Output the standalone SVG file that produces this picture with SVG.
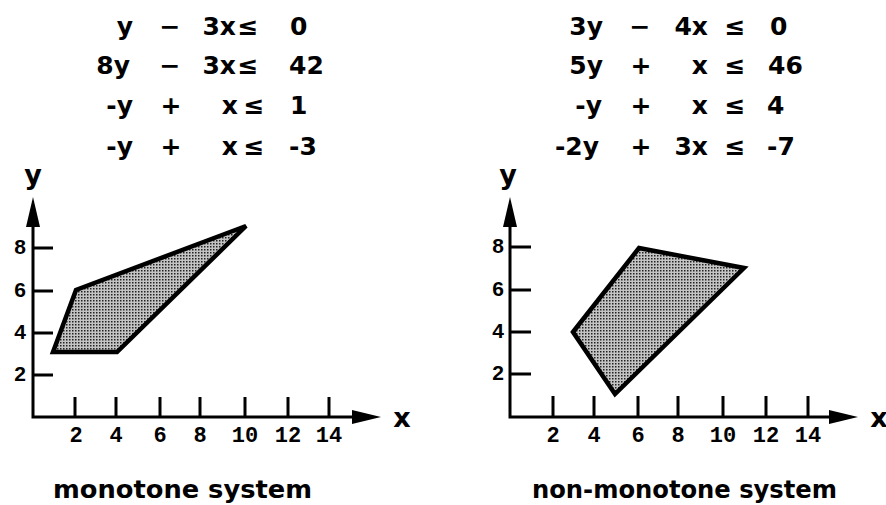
<svg xmlns="http://www.w3.org/2000/svg" width="886" height="505" viewBox="0 0 886 505">
<style>
.eq{font-family:"DejaVu Sans","Liberation Sans",sans-serif;font-weight:bold;font-size:25px;fill:#000}
.ax{stroke:#000;stroke-width:3;fill:none}
.tk{stroke:#000;stroke-width:3}
.xl{font-family:"Liberation Mono","DejaVu Sans Mono",monospace;font-weight:bold;font-size:22px;text-anchor:middle;fill:#000}
.yl{font-family:"Liberation Sans",Arial,sans-serif;font-weight:bold;font-size:21px;text-anchor:end;fill:#000}
.al{font-family:"DejaVu Sans","Liberation Sans",sans-serif;font-weight:bold;font-size:27px;text-anchor:middle;fill:#000}
.cap{font-family:"DejaVu Sans","Liberation Sans",sans-serif;font-weight:bold;font-size:25px;fill:#000}
.reg{fill:url(#dots);stroke:#000;stroke-width:4.5;stroke-linejoin:miter;stroke-miterlimit:3}
.e{text-anchor:end}.m{text-anchor:middle}.s{text-anchor:start}
</style>
<defs>
<pattern id="dots" width="3" height="3" patternUnits="userSpaceOnUse">
<rect width="3" height="3" fill="#c4c4c4"/>
<rect width="1.5" height="1.5" fill="#222"/>
</pattern>
</defs>

<g id="equations-left" class="eq">
<text x="133" y="35" class="e">y</text><text x="170" y="35" class="m">−</text><text x="236" y="35" class="e">3x</text><text x="248" y="35" class="m">≤</text><text x="290" y="35" class="s">0</text>
<text x="130" y="74" class="e">8y</text><text x="170" y="74" class="m">−</text><text x="236" y="74" class="e">3x</text><text x="248" y="74" class="m">≤</text><text x="289" y="74" class="s">42</text>
<text x="133" y="114" class="e">-y</text><text x="171" y="114" class="m">+</text><text x="238" y="114" class="e">x</text><text x="254" y="114" class="m">≤</text><text x="290" y="114" class="s">1</text>
<text x="133" y="155" class="e">-y</text><text x="171" y="155" class="m">+</text><text x="238" y="155" class="e">x</text><text x="254" y="155" class="m">≤</text><text x="289" y="155" class="s">-3</text>
</g>

<g id="equations-right" class="eq">
<text x="603" y="35" class="e">3y</text><text x="640" y="35" class="m">−</text><text x="708" y="35" class="e">4x</text><text x="735" y="35" class="m">≤</text><text x="770" y="35" class="s">0</text>
<text x="603" y="74" class="e">5y</text><text x="641" y="74" class="m">+</text><text x="708" y="74" class="e">x</text><text x="735" y="74" class="m">≤</text><text x="768" y="74" class="s">46</text>
<text x="602" y="114" class="e">-y</text><text x="641" y="114" class="m">+</text><text x="708" y="114" class="e">x</text><text x="735" y="114" class="m">≤</text><text x="767" y="114" class="s">4</text>
<text x="599" y="155" class="e">-2y</text><text x="641" y="155" class="m">+</text><text x="708" y="155" class="e">3x</text><text x="735" y="155" class="m">≤</text><text x="767" y="155" class="s">-7</text>
</g>

<g id="chart-left">
<polygon class="reg" points="53,352 76,290 246,226 117,352"/>
<path class="ax" d="M33,224 V417 H353"/>
<polygon points="33,197 26,227 40,227" fill="#000"/>
<polygon points="381,417 352,410 352,424" fill="#000"/>
<path class="tk" d="M33,248 H53 M33,291 H53 M33,333 H53 M33,375 H53 M75,397 V417 M116,397 V417 M160,397 V417 M200,397 V417 M245,397 V417 M288,397 V417 M329,397 V417"/>
<text class="yl" x="26" y="254">8</text><text class="yl" x="26" y="297">6</text><text class="yl" x="26" y="339">4</text><text class="yl" x="26" y="381">2</text>
<text class="xl" x="76" y="442">2</text><text class="xl" x="116" y="442">4</text><text class="xl" x="160" y="442">6</text><text class="xl" x="200" y="442">8</text><text class="xl" x="245" y="442">10</text><text class="xl" x="288" y="442">12</text><text class="xl" x="329" y="442">14</text>
<text class="al" x="33" y="184">y</text>
<text class="al" x="402" y="427">x</text>
<text class="cap" x="53" y="498" textLength="259" lengthAdjust="spacingAndGlyphs">monotone system</text>
</g>

<g id="chart-right">
<polygon class="reg" points="573,332 639,248 744,268 615,394"/>
<path class="ax" d="M510,224 V417 H830"/>
<polygon points="510,197 503,227 517,227" fill="#000"/>
<polygon points="858,417 829,410 829,424" fill="#000"/>
<path class="tk" d="M510,247 H531 M510,290 H531 M510,332 H531 M510,374 H531 M553,396 V417 M594,396 V417 M638,396 V417 M678,396 V417 M723,396 V417 M766,396 V417 M808,396 V417"/>
<text class="yl" x="504" y="253">8</text><text class="yl" x="504" y="296">6</text><text class="yl" x="504" y="338">4</text><text class="yl" x="504" y="380">2</text>
<text class="xl" x="553" y="442">2</text><text class="xl" x="594" y="442">4</text><text class="xl" x="638" y="442">6</text><text class="xl" x="678" y="442">8</text><text class="xl" x="723" y="442">10</text><text class="xl" x="766" y="442">12</text><text class="xl" x="808" y="442">14</text>
<text class="al" x="508" y="184">y</text>
<text class="al" x="879" y="427">x</text>
<text class="cap" x="532" y="498" textLength="305" lengthAdjust="spacingAndGlyphs">non-monotone system</text>
</g>
</svg>
